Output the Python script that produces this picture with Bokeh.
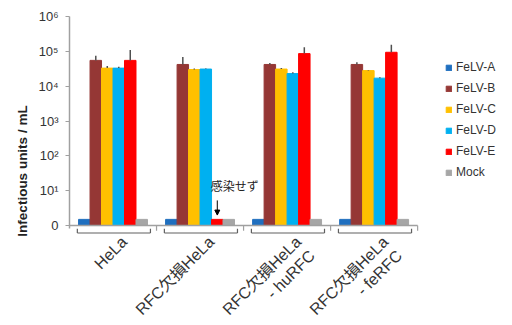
import math
from bokeh.plotting import figure
from bokeh.models import (FixedTicker, Legend, LegendItem, Arrow, NormalHead, ColumnDataSource)
from bokeh.core.properties import value
from bokeh.embed import file_html
from bokeh.resources import INLINE

groups = ["HeLa", "RFC欠損HeLa", "RFC欠損HeLa\n- huRFC", "RFC欠損HeLa\n- feRFC"]
series = ["FeLV-A", "FeLV-B", "FeLV-C", "FeLV-D", "FeLV-E", "Mock"]
colors = ["#1F6FBF", "#953735", "#FFC000", "#00B0F0", "#FF0000", "#A6A6A6"]

felv_a = [1.5, 1.5, 1.5, 1.5]
felv_b = [5.5e4, 4.2e4, 4.2e4, 4.2e4]
felv_c = [3.3e4, 3.0e4, 3.1e4, 2.8e4]
felv_d = [3.3e4, 3.1e4, 2.3e4, 1.7e4]
felv_e = [5.5e4, 1.5, 8.6e4, 9.4e4]
mock = [1.5, 1.5, 1.5, 1.5]

err_a = [None, None, None, None]
err_b = [7.5e4, 6.9e4, 4.6e4, 4.9e4]
err_c = [3.8e4, 3.2e4, 3.3e4, 2.9e4]
err_d = [3.6e4, 3.2e4, 2.5e4, 1.8e4]
err_e = [1.1e5, None, 1.3e5, 1.55e5]
err_m = [None, None, None, None]

y_ticks = [1, 10, 100, 1000, 10000, 100000, 1000000]
y_tick_labels = ["0", "10¹", "10²", "10³", "10⁴", "10⁵", "10⁶"]
note_text = "感染せず"

values = [felv_a, felv_b, felv_c, felv_d, felv_e, mock]
errors = [err_a, err_b, err_c, err_d, err_e, err_m]

FONT = "Liberation Sans, Noto Sans CJK JP"
bw = 0.132
start = 0.104
n = len(groups)

p = figure(width=512, height=325, output_backend="svg", toolbar_location=None,
           x_range=(0, 5.09), y_range=(10 ** -2.87, 1e6), y_axis_type="log",
           min_border_left=69, min_border_right=0, min_border_top=16, min_border_bottom=0)
p.outline_line_color = None
p.grid.visible = False
p.xaxis.visible = False
p.background_fill_color = "white"

legend_items = []
for k, (name, col, vals, errs) in enumerate(zip(series, colors, values, errors)):
    xs = [g + start + (k + 0.5) * bw for g in range(n)]
    src = ColumnDataSource(dict(x=xs, top=vals))
    r = p.vbar(x="x", top="top", bottom=1, width=bw, source=src, fill_color=col, line_color=col)
    legend_items.append(LegendItem(label=name, renderers=[r]))
    ex, e0, e1 = [], [], []
    for x, v, e in zip(xs, vals, errs):
        if e is not None:
            ex.append(x); e0.append(v); e1.append(e)
    if ex:
        p.segment(x0=ex, y0=e0, x1=ex, y1=e1, line_color="#505050", line_width=1.5)

# x axis line at value 1 (the "0" baseline)
p.segment(x0=[0], y0=[1], x1=[n], y1=[1], line_color="#A0A0A0", line_width=1.5)

# group boundary ticks
bx = list(range(1, n + 1))
p.segment(x0=bx, y0=[1] * n, x1=bx, y1=[10 ** -0.15] * n, line_color="#A0A0A0", line_width=1.2)

# brackets under groups
gl = [g + 0.09 for g in range(n)]
gr = [g + 0.93 for g in range(n)]
yb = 10 ** -0.215
yt = 10 ** -0.09
p.segment(x0=gl, y0=[yb] * n, x1=gr, y1=[yb] * n, line_color="#606060", line_width=1.2)
p.segment(x0=gl, y0=[yb] * n, x1=gl, y1=[yt] * n, line_color="#606060", line_width=1.2)
p.segment(x0=gr, y0=[yb] * n, x1=gr, y1=[yt] * n, line_color="#606060", line_width=1.2)

# category labels, rotated
p.text(x=[g + 0.5 + 0.06 for g in range(n)], y=[10 ** -0.22] * n, text=groups, angle=math.pi / 4,
       text_font=value(FONT), text_font_size="16px", text_color="#333333",
       text_align="right", text_baseline="top", text_line_height=1.15)

# annotation for non-infected
ex = 1 + start + 4.5 * bw
p.text(x=[1 + start + 4 * bw - 0.01], y=[10 ** 1.14], text=[note_text],
       text_font=value("Noto Sans CJK JP"), text_font_size="12px", text_color="#222222",
       text_align="left", text_baseline="middle")
p.add_layout(Arrow(x_start=ex, y_start=10 ** 0.72, x_end=ex, y_end=10 ** 0.3,
                   line_color="black", line_width=1,
                   end=NormalHead(size=5, fill_color="black", line_color="black")))

# y axis
p.yaxis.ticker = FixedTicker(ticks=y_ticks, minor_ticks=[])
p.yaxis.major_label_overrides = {t: l for t, l in zip(y_ticks, y_tick_labels)}
p.yaxis.bounds = (10 ** -0.09, 1e6)
p.yaxis.axis_line_color = "#A0A0A0"
p.yaxis.axis_line_width = 1.5
p.yaxis.major_tick_line_color = "#A0A0A0"
p.yaxis.major_tick_in = 0
p.yaxis.major_tick_out = 4
p.yaxis.minor_tick_line_color = None
p.yaxis.major_label_text_font = FONT
p.yaxis.major_label_text_font_size = "13px"
p.yaxis.major_label_text_color = "#333333"
p.yaxis.major_label_standoff = 7
p.yaxis.axis_label = "Infectious units / mL"
p.yaxis.axis_label_text_font = FONT
p.yaxis.axis_label_text_font_style = "bold"
p.yaxis.axis_label_text_font_size = "13.5px"
p.yaxis.axis_label_text_color = "#222222"
p.yaxis.axis_label_standoff = 5

legend = Legend(items=legend_items, location=(376, 146), orientation="vertical",
                label_text_font=FONT, label_text_font_size="12px", label_text_color="#333333",
                glyph_width=7, glyph_height=7, label_height=14, spacing=7, label_standoff=4,
                padding=0, margin=0, border_line_color=None, background_fill_alpha=0)
p.add_layout(legend)

open("out.html", "w").write(file_html(p, INLINE))
